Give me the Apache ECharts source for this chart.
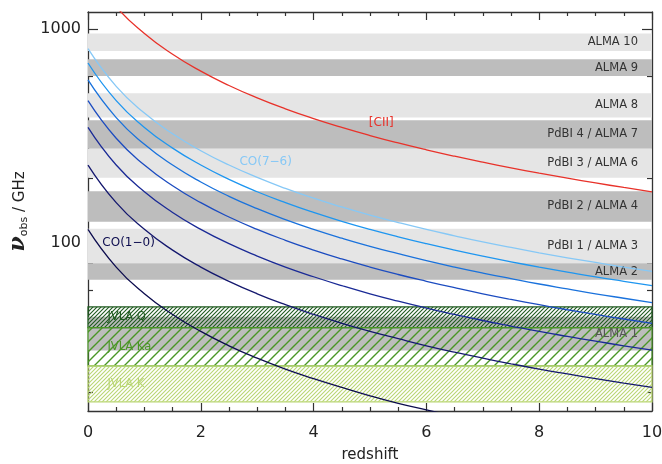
<!DOCTYPE html>
<html>
<head>
<meta charset="utf-8">
<script src="https://cdn.jsdelivr.net/npm/echarts@6/dist/echarts.min.js"></script>
<style>
  html, body { margin: 0; padding: 0; background: #fff; }
  #chart { width: 662px; height: 464px; }
</style>
</head>
<body>
<div id="chart"></div>
<script>
// Redshift grid (z) and observed frequencies (GHz) of each line
const redshift = [0, 0.5, 1, 1.5, 2, 2.5, 3, 3.5, 4, 4.5, 5, 5.5, 6, 6.5, 7, 7.5, 8, 8.5, 9, 9.5, 10];

const co10 = [115.3, 76.8, 57.6, 46.1, 38.4, 32.9, 28.8, 25.6, 23.1, 21.0, 19.2, 17.7, 16.5, 15.4, 14.4, 13.6, 12.8, 12.1, 11.5, 11.0, 10.5];
const co21 = [230.5, 153.7, 115.3, 92.2, 76.8, 65.9, 57.6, 51.2, 46.1, 41.9, 38.4, 35.5, 32.9, 30.7, 28.8, 27.1, 25.6, 24.3, 23.1, 22.0, 21.0];
const co32 = [345.8, 230.5, 172.9, 138.3, 115.3, 98.8, 86.5, 76.8, 69.2, 62.9, 57.6, 53.2, 49.4, 46.1, 43.2, 40.7, 38.4, 36.4, 34.6, 32.9, 31.4];
const co43 = [461.0, 307.4, 230.5, 184.4, 153.7, 131.7, 115.3, 102.5, 92.2, 83.8, 76.8, 70.9, 65.9, 61.5, 57.6, 54.2, 51.2, 48.5, 46.1, 43.9, 41.9];
const co54 = [576.3, 384.2, 288.1, 230.5, 192.1, 164.6, 144.1, 128.1, 115.3, 104.8, 96.0, 88.7, 82.3, 76.8, 72.0, 67.8, 64.0, 60.7, 57.6, 54.9, 52.4];
const co65 = [691.5, 461.0, 345.7, 276.6, 230.5, 197.6, 172.9, 153.7, 138.3, 125.7, 115.2, 106.4, 98.8, 92.2, 86.4, 81.3, 76.8, 72.8, 69.1, 65.9, 62.9];
const co76 = [806.7, 537.8, 403.3, 322.7, 268.9, 230.5, 201.7, 179.3, 161.3, 146.7, 134.4, 124.1, 115.2, 107.6, 100.8, 94.9, 89.6, 84.9, 80.7, 76.8, 73.3];
const cii  = [1900.5, 1267.0, 950.3, 760.2, 633.5, 543.0, 475.1, 422.3, 380.1, 345.6, 316.8, 292.4, 271.5, 253.4, 237.6, 223.6, 211.2, 200.1, 190.1, 181.0, 172.8];

// Receiver bands (GHz)
const bandNames = ['ALMA 10', 'ALMA 9', 'ALMA 8', 'PdBI 4 / ALMA 7', 'PdBI 3 / ALMA 6', 'PdBI 2 / ALMA 4', 'PdBI 1 / ALMA 3', 'ALMA 2', 'ALMA 1'];
const bandLow  = [787, 602, 385, 275, 201, 125, 80, 67, 31.3];
const bandHigh = [950, 720, 500, 373, 275, 174, 116, 80, 45];
const bandDark = [false, true, false, true, false, true, false, true, true];

const jvlaNames = ['JVLA Q', 'JVLA Ka', 'JVLA K'];
const jvlaLow  = [40, 26.5, 18];
const jvlaHigh = [50, 40, 26.5];

// Axis ticks and labels
const yMajor = [100, 1000];
const yMinor = [20, 40, 60, 80, 200, 400, 600, 800];

const FONT = 'DejaVu Sans';
const Y_MIN = 16.3, Y_MAX = 1198;

// Tileable "/" hatch used to fill the JVLA bands
function hatch(color, step, width) {
  const c = document.createElement('canvas');
  c.width = step; c.height = step;
  const g = c.getContext('2d');
  g.strokeStyle = color;
  g.lineWidth = width;
  g.lineCap = 'square';
  g.beginPath();
  g.moveTo(0, step); g.lineTo(step, 0);
  g.moveTo(-2, 2); g.lineTo(2, -2);
  g.moveTo(step - 2, step + 2); g.lineTo(step + 2, step - 2);
  g.stroke();
  return c;
}

const jvlaColor = ['#1f5a1f', '#4a9626', '#b9d673'];
const jvlaHatch = [hatch(jvlaColor[0], 4, 1.1), hatch(jvlaColor[1], 10, 1.4), hatch(jvlaColor[2], 4, 1.1)];

const pairs = arr => redshift.map((z, i) => [z, arr[i]]);

const lines = [
  { name: 'CO(1-0)', data: co10, color: '#0c0c4e' },
  { name: 'CO(2-1)', data: co21, color: '#14186e' },
  { name: 'CO(3-2)', data: co32, color: '#1a2a96' },
  { name: 'CO(4-3)', data: co43, color: '#1c4cc0' },
  { name: 'CO(5-4)', data: co54, color: '#1a72dc' },
  { name: 'CO(6-5)', data: co65, color: '#1e96f0' },
  { name: 'CO(7-6)', data: co76, color: '#86c8f6' },
  { name: '[CII]', data: cii, color: '#e8322a' }
];

const curveLabels = {
  'CO(1-0)': { text: 'CO(1−0)', coord: [0.72, 100] },
  'CO(7-6)': { text: 'CO(7−6)', coord: [3.15, 238] },
  '[CII]':   { text: '[CII]', coord: [5.2, 363] }
};

const axisLineStyle = { color: '#333', width: 1.3 };

function logAxis(position, ticks, len, showLine, withLabels) {
  return {
    type: 'log', logBase: 10, min: Y_MIN, max: Y_MAX, position: position,
    axisLine: { show: showLine, onZero: false, lineStyle: axisLineStyle },
    axisTick: { show: true, inside: true, length: len, customValues: ticks, lineStyle: { color: '#333', width: 1.2 } },
    axisLabel: withLabels
      ? { show: true, customValues: ticks, margin: 7, fontFamily: FONT, fontSize: 16, color: '#222', formatter: v => String(Math.round(v)) }
      : { show: false },
    splitLine: { show: false },
    minorTick: { show: false }
  };
}

function zAxis(position, withLabels) {
  return {
    type: 'value', min: 0, max: 10, interval: 2, position: position,
    axisLine: { show: true, onZero: false, lineStyle: axisLineStyle },
    axisTick: { show: true, inside: true, length: 8, lineStyle: { color: '#333', width: 1.2 } },
    minorTick: { show: true, splitNumber: 4, length: 4, lineStyle: { color: '#333', width: 1.2 } },
    axisLabel: withLabels ? { show: true, margin: 14, fontFamily: FONT, fontSize: 16, color: '#222' } : { show: false },
    splitLine: { show: false }
  };
}

const xAxes = [zAxis('bottom', true), zAxis('top', false)];
Object.assign(xAxes[0], {
  name: 'redshift', nameLocation: 'middle', nameGap: 37,
  nameTextStyle: { fontFamily: FONT, fontSize: 15, color: '#222' }
});

const yAxes = [
  logAxis('left', yMajor, 10, true, true),
  logAxis('left', yMinor, 5, false, false),
  logAxis('right', yMajor, 10, true, false),
  logAxis('right', yMinor, 5, false, false)
];
Object.assign(yAxes[0], {
  name: '{nu|ν}{sub|obs}{txt| / GHz}', nameLocation: 'middle', nameGap: 58, nameRotate: 90,
  nameTextStyle: {
    rich: {
      nu: { fontFamily: 'DejaVu Serif', fontSize: 22, fontWeight: 'bold', fontStyle: 'italic', color: '#222', verticalAlign: 'bottom' },
      sub: { fontFamily: FONT, fontSize: 11, color: '#222', verticalAlign: 'bottom' },
      txt: { fontFamily: FONT, fontSize: 15, color: '#222', verticalAlign: 'bottom', padding: [0, 0, 2, 0] }
    }
  }
});

const bandSeries = {
  type: 'line', name: 'bands', data: [], xAxisIndex: 0, yAxisIndex: 0, z: 1, silent: true,
  markArea: {
    silent: true,
    data: bandNames.map((n, i) => [
      {
        yAxis: bandLow[i], name: n,
        itemStyle: { color: bandDark[i] ? '#bdbdbd' : '#e5e5e5', opacity: 1 },
        label: {
          show: true, position: 'insideRight', distance: 14, formatter: n,
          fontFamily: FONT, fontSize: 11.5, color: n === 'ALMA 1' ? '#555' : '#333'
        }
      },
      { yAxis: bandHigh[i] }
    ])
  }
};

const jvlaSeries = {
  type: 'line', name: 'jvla', data: [], xAxisIndex: 0, yAxisIndex: 0, z: 2, silent: true,
  markArea: {
    silent: true,
    data: jvlaNames.map((n, i) => [
      {
        yAxis: jvlaLow[i], name: n,
        itemStyle: { color: { image: jvlaHatch[i], repeat: 'repeat' }, borderColor: jvlaColor[i], borderWidth: 1.2, opacity: 1 },
        label: {
          show: true, position: 'insideLeft', distance: 20, formatter: n,
          fontFamily: FONT, fontSize: 11.5, color: jvlaColor[i]
        }
      },
      { yAxis: jvlaHigh[i] }
    ])
  }
};

const curveSeries = lines.map(l => {
  const s = {
    type: 'line', name: l.name, data: pairs(l.data), xAxisIndex: 0, yAxisIndex: 0, z: 3,
    smooth: true, showSymbol: false, symbol: 'none', clip: true,
    lineStyle: { color: l.color, width: 1.3 }, silent: true
  };
  const lab = curveLabels[l.name];
  if (lab) {
    s.markPoint = {
      silent: true, symbol: 'circle', symbolSize: 0,
      data: [{ coord: lab.coord, name: lab.text }],
      label: { show: true, position: 'inside', formatter: lab.text, fontFamily: FONT, fontSize: 12, color: l.color }
    };
  }
  return s;
});

const chart = echarts.init(document.getElementById('chart'), null, { renderer: 'canvas' });
chart.setOption({
  animation: false,
  backgroundColor: '#fff',
  grid: { left: 88, right: 10, top: 12, bottom: 53, containLabel: false, outerBoundsMode: 'none' },
  xAxis: xAxes,
  yAxis: yAxes,
  series: [bandSeries, jvlaSeries].concat(curveSeries)
});
</script>
</body>
</html>
